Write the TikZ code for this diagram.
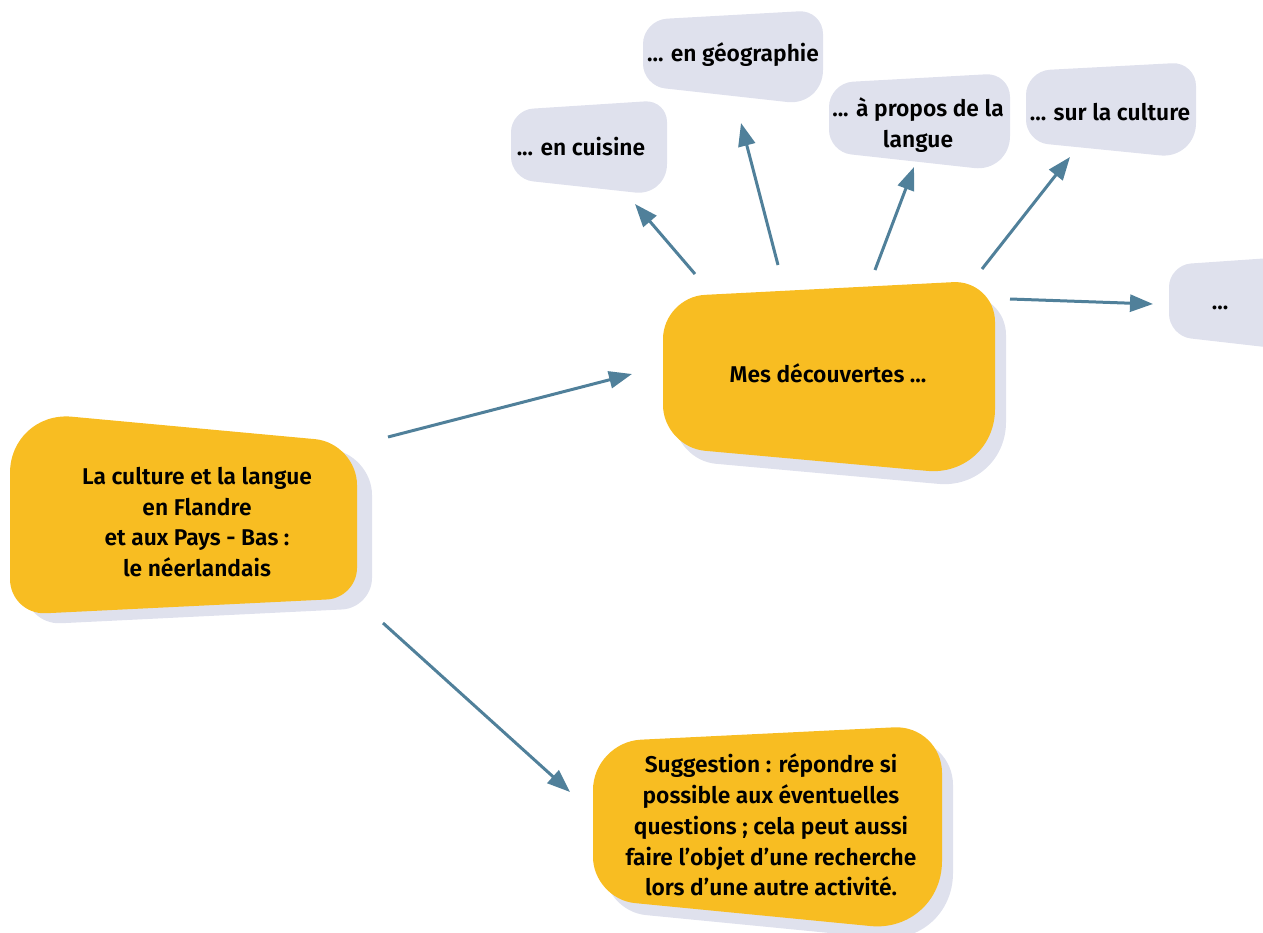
\documentclass[tikz,border=0pt]{standalone}
\usepackage{fontspec}
\setmainfont{Fira Sans SemiBold}
\usetikzlibrary{calc,arrows.meta}
\definecolor{yel}{HTML}{F8BD22}
\definecolor{pale}{HTML}{DFE1ED}
\definecolor{arr}{HTML}{50809A}
\newcommand\quadc[8]{\coordinate (tl) at (#1,#2); \coordinate (tr) at (#3,#4); \coordinate (br) at (#5,#6); \coordinate (bl) at (#7,#8);}
% rounded corner from edge (P->Q) around corner P, to edge (P->R)
\newcommand\crn[4]{.. controls ($(#1)!#4!(#2)!0.55!(#1)$) and ($(#1)!#4!(#3)!0.55!(#1)$) .. ($(#1)!#4!(#3)$)}
\newcommand\blobpath[4]{($(tl)!#1!(bl)$) \crn{tl}{bl}{tr}{#1} -- ($(tr)!#2!(tl)$) \crn{tr}{tl}{br}{#2} -- ($(br)!#3!(tr)$) \crn{br}{tr}{bl}{#3} -- ($(bl)!#4!(br)$) \crn{bl}{br}{tl}{#4} -- cycle}
\begin{document}
\begin{tikzpicture}[x=1pt,y=-1pt,
  txt/.style={align=center,font=\fontsize{22.8}{30.8}\selectfont,text=black,inner sep=0pt},
  conn/.style={draw=arr,line width=3pt,-{Triangle[length=23pt,width=17pt]}}]
\useasboundingbox (0,0) rectangle (1263,933);
\clip (0,0) rectangle (1263,933);
% shadows
\begin{scope}[shift={(15,10)}]
  \quadc{10}{411}{357}{443}{357}{598}{10}{615}
  \fill[pale] \blobpath{62pt}{42pt}{30pt}{36pt};
\end{scope}
\begin{scope}[shift={(11,13)}]
  \quadc{663}{297}{995}{280}{995}{477}{663}{447}
  \fill[pale] \blobpath{42pt}{42pt}{68pt}{42pt};
\end{scope}
\begin{scope}[shift={(11,12)}]
  \quadc{593}{742}{942}{725}{942}{933}{593}{899}
  \fill[pale] \blobpath{48pt}{48pt}{72pt}{42pt};
\end{scope}
% yellow boxes
\quadc{10}{411}{357}{443}{357}{598}{10}{615}
\fill[yel] \blobpath{62pt}{42pt}{30pt}{36pt};
\quadc{663}{297}{995}{280}{995}{477}{663}{447}
\fill[yel] \blobpath{42pt}{42pt}{68pt}{42pt};
\quadc{593}{742}{942}{725}{942}{933}{593}{899}
\fill[yel] \blobpath{48pt}{48pt}{72pt}{42pt};
% grey boxes
\quadc{511}{110}{667}{100}{667}{196}{511}{179}
\fill[pale] \blobpath{22pt}{22pt}{32pt}{22pt};
\quadc{643}{20}{823}{10}{823}{106}{643}{86}
\fill[pale] \blobpath{24pt}{24pt}{36pt}{22pt};
\quadc{829}{83}{1010}{73}{1010}{172}{829}{152}
\fill[pale] \blobpath{24pt}{24pt}{36pt}{22pt};
\quadc{1026}{71}{1196}{62}{1196}{159}{1026}{142}
\fill[pale] \blobpath{24pt}{24pt}{36pt}{22pt};
\quadc{1169}{265}{1300}{256}{1300}{351}{1169}{336}
\fill[pale] \blobpath{22pt}{22pt}{22pt}{22pt};
% texts
\node[txt] (root) at (197,522) {La culture et la langue\\en Flandre\\et aux Pays - Bas :\\le néerlandais};
\node[txt] (mes) at (828,373) {Mes découvertes ...};
\node[txt] (sugg) at (771,825) {Suggestion : répondre si\\possible aux éventuelles\\questions ; cela peut aussi\\faire l’objet d’une recherche\\lors d’une autre activité.};
\node[txt] (cuisine) at (581,147) {... en cuisine};
\node[txt] (geo) at (733,55) {... en géographie};
\node[txt] (langue) at (918,125) {... à propos de la\\langue};
\node[txt] (culture) at (1110,112) {... sur la culture};
\node[txt] (more) at (1220,308) {...};
% connector ends
\coordinate (r1) at (388,437); \coordinate (m1) at (632,374);
\coordinate (r2) at (383,623); \coordinate (s1) at (570,792);
\coordinate (m2) at (695,274); \coordinate (c1) at (635,204);
\coordinate (m3) at (778,265); \coordinate (g1) at (741,123);
\coordinate (m4) at (875,270); \coordinate (l1) at (914,167);
\coordinate (m5) at (982,269); \coordinate (k1) at (1070,157);
\coordinate (m6) at (1010,299); \coordinate (e1) at (1153,304);
\draw[conn] (r1) -- (m1);
\draw[conn] (r2) -- (s1);
\draw[conn] (m2) -- (c1);
\draw[conn] (m3) -- (g1);
\draw[conn] (m4) -- (l1);
\draw[conn] (m5) -- (k1);
\draw[conn] (m6) -- (e1);
\end{tikzpicture}
\end{document}
